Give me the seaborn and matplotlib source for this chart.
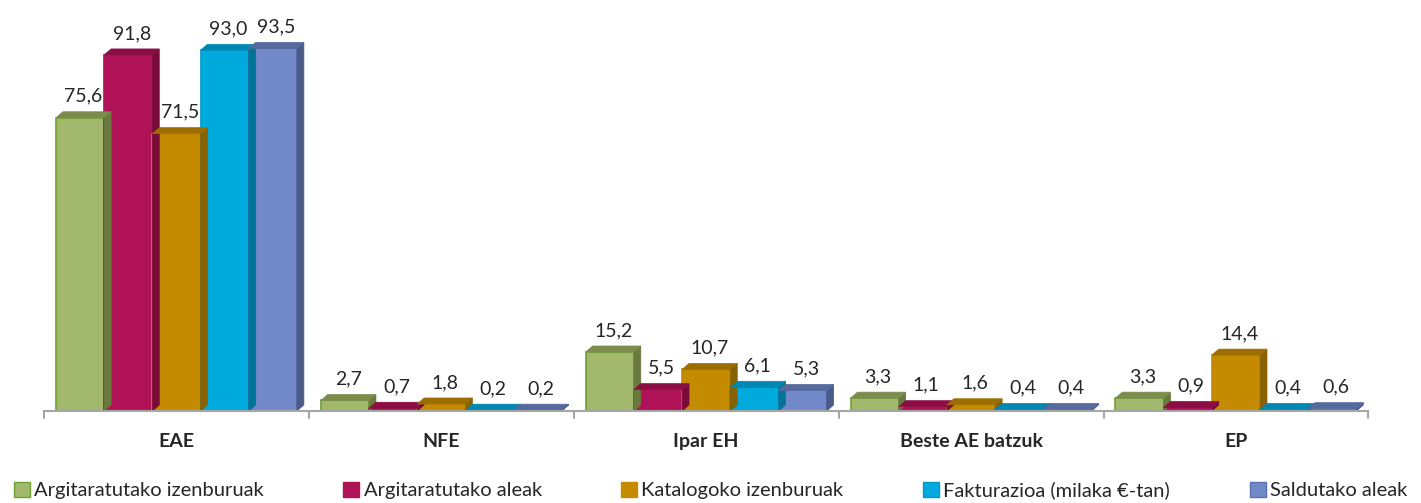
import numpy as np
import pandas as pd
import matplotlib
matplotlib.use("Agg")
import matplotlib.pyplot as plt
from matplotlib.patches import Polygon, Patch
import seaborn as sns

sns.set_style("white")
plt.rcParams['font.family'] = ['Lato', 'DejaVu Sans']

# Data
categories = ['EAE', 'NFE', 'Ipar EH', 'Beste AE batzuk', 'EP']
series = ['Argitaratutako izenburuak', 'Argitaratutako aleak', 'Katalogoko izenburuak',
          'Fakturazioa (milaka €-tan)', 'Saldutako aleak']
izenburuak = [75.6, 2.7, 15.2, 3.3, 3.3]
aleak = [91.8, 0.7, 5.5, 1.1, 0.9]
katalogoko = [71.5, 1.8, 10.7, 1.6, 14.4]
fakturazioa = [93.0, 0.2, 6.1, 0.4, 0.4]
saldutako = [93.5, 0.2, 5.3, 0.4, 0.6]

# front / top / side / edge colours
front = ['#a2b86c', '#b01257', '#c48b00', '#00aadc', '#7189c8']
top = ['#7c8c4c', '#8a0e44', '#9c6e00', '#0088b2', '#566a9e']
side = ['#6a7a3e', '#780b3a', '#8a6100', '#007498', '#4a5b88']
edge = ['#6ea033', '#b01257', '#c48b00', '#0099c8', '#5a70b0']

rows = []
for s, vals in zip(series, [izenburuak, aleak, katalogoko, fakturazioa, saldutako]):
    for c, v in zip(categories, vals):
        rows.append({'cat': c, 'series': s, 'value': v})
df = pd.DataFrame(rows)

fig = plt.figure(figsize=(14.21, 5.03), dpi=100)
ax = fig.add_axes([0.031, 0.183, 0.932, 0.771])

sns.barplot(data=df, x='cat', y='value', hue='series', order=categories,
            hue_order=series, palette=front, saturation=1, width=0.91,
            ax=ax, legend=False)

ax.set_ylim(0, 100)
ax.set_xlim(-0.5, 4.5)

dx = 0.026   # depth in category units
dy = 1.55    # depth in value units

for i, cont in enumerate(ax.containers):
    for bar in cont:
        x0 = bar.get_x()
        w = bar.get_width()
        h = bar.get_height()
        bar.set_edgecolor(edge[i])
        bar.set_linewidth(1.2)
        topface = Polygon([(x0, h), (x0 + dx, h + dy), (x0 + w + dx, h + dy), (x0 + w, h)],
                          closed=True, facecolor=top[i], edgecolor=top[i], lw=0.5, zorder=bar.get_zorder())
        sideface = Polygon([(x0 + w, 0), (x0 + w + dx, dy), (x0 + w + dx, h + dy), (x0 + w, h)],
                           closed=True, facecolor=side[i], edgecolor=side[i], lw=0.5, zorder=bar.get_zorder())
        ax.add_patch(sideface)
        ax.add_patch(topface)
        label = f"{h:.1f}".replace('.', ',')
        ax.annotate(label, (x0 + w / 2 + dx / 2, h + dy), xytext=(0, 5),
                    textcoords='offset points', ha='center', va='bottom', fontsize=14)

# axis styling
for sp in ['top', 'right', 'left']:
    ax.spines[sp].set_visible(False)
ax.spines['bottom'].set_color('#a6a6a6')
ax.spines['bottom'].set_linewidth(1.5)
ax.set_yticks([])
ax.set_xticks(np.arange(len(categories)))
ax.set_xticklabels(categories, fontsize=14, fontweight='bold')
ax.tick_params(axis='x', length=0, pad=16)
for b in np.arange(-0.5, len(categories), 1.0):
    ax.plot([b, b], [0, -1.8], color='#a6a6a6', lw=1.5, clip_on=False)
ax.set_xlabel('')
ax.set_ylabel('')

handles = [Patch(facecolor=front[i], edgecolor=edge[i], label=series[i]) for i in range(len(series))]
fig.legend(handles=handles, loc='center', bbox_to_anchor=(0.5, 0.025), ncol=5,
           frameon=False, fontsize=14.5, handlelength=0.8, handleheight=0.8,
           handletextpad=0.2, columnspacing=3.95)

fig.savefig('out.png', dpi=100)
